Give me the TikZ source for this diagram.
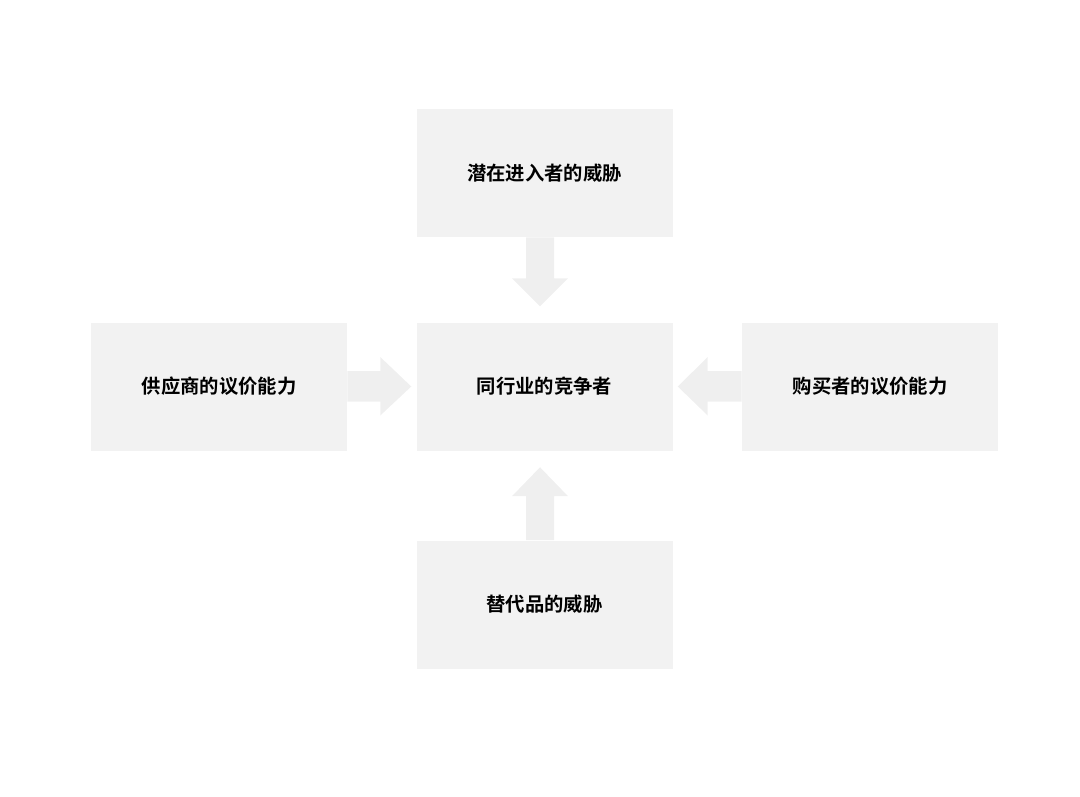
\documentclass[tikz,border=0pt]{standalone}
\usepackage{fontspec}
\newfontfamily\cjk[BoldFont={Noto Sans CJK SC Bold}]{Noto Sans CJK SC}
\usetikzlibrary{calc,positioning}

\begin{document}
\begin{tikzpicture}[
    x=0.75pt,y=-0.75pt,
    force/.style={
      fill=boxgray,minimum width=192pt,minimum height=96pt,inner sep=0pt,
      font=\cjk\bfseries\fontsize{14.5}{17}\selectfont
    },
    blockarrow/.style={fill=arrowgray}
  ]
  \definecolor{boxgray}{HTML}{F2F2F2}
  \definecolor{arrowgray}{HTML}{EFEFEF}
  \useasboundingbox (0,0) rectangle (1080,796);

  \node (mid)   [force] at (544.5,386.5) {同行业的竞争者};
  \node (top)   [force] at (544.5,173)   {潜在进入者的威胁};
  \node (left)  [force] at (219,386.5)   {供应商的议价能力};
  \node (right) [force] at (870,386.5)   {购买者的议价能力};
  \node (bot)   [force] at (544.5,604.5) {替代品的威胁};

  % block arrows
  \fill [blockarrow] ($(top.south)+(-18.5,0)$) -- ++(0,41) -- ++(-14,0)
    -- ($(top.south)+(-4.5,69)$) -- ++(28,-28) -- ++(-14,0) -- ++(0,-41) -- cycle;
  \fill [blockarrow] ($(bot.north)+(-18.5,0)$) -- ++(0,-44) -- ++(-14,0)
    -- ($(bot.north)+(-4.5,-73)$) -- ++(28,29) -- ++(-14,0) -- ++(0,44) -- cycle;
  \fill [blockarrow] ($(left.east)+(0,-15.5)$) -- ++(33,0) -- ++(0,-14)
    -- ($(left.east)+(64,0)$) -- ++(-31,29) -- ++(0,-14) -- ++(-33,0) -- cycle;
  \fill [blockarrow] ($(right.west)+(0,-15.5)$) -- ++(-34,0) -- ++(0,-14)
    -- ($(right.west)+(-64,0)$) -- ++(30,29) -- ++(0,-14) -- ++(34,0) -- cycle;
\end{tikzpicture}
\end{document}
